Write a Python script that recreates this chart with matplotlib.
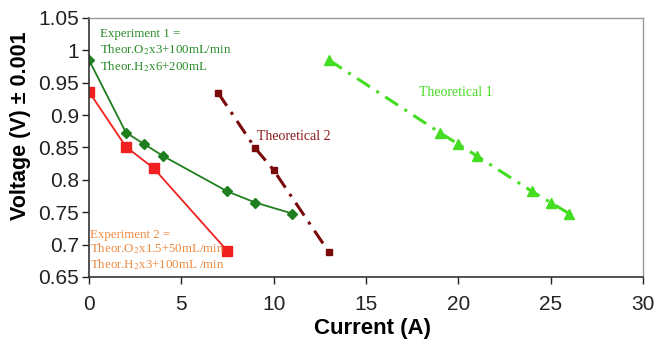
import matplotlib
matplotlib.use("Agg")
import matplotlib.pyplot as plt

# ── Data ───────────────────────────────────────────────────────────────────
exp1_current = [0, 2, 3, 4, 7.5, 9, 11]
exp1_voltage = [0.985, 0.873, 0.855, 0.837, 0.782, 0.765, 0.748]

exp2_current = [0, 2, 3.5, 7.5]
exp2_voltage = [0.936, 0.851, 0.818, 0.690]

theo1_current = [13, 19, 20, 21, 24, 25, 26]
theo1_voltage = [0.985, 0.873, 0.855, 0.837, 0.782, 0.765, 0.748]

theo2_current = [7, 9, 10, 13]
theo2_voltage = [0.934, 0.849, 0.815, 0.688]

x_ticks = [0, 5, 10, 15, 20, 25, 30]
y_ticks = [0.65, 0.7, 0.75, 0.8, 0.85, 0.9, 0.95, 1.0, 1.05]
y_tick_labels = ["0.65", "0.7", "0.75", "0.8", "0.85", "0.9", "0.95", "1", "1.05"]

plt.rcParams["font.family"] = ["Liberation Sans", "DejaVu Sans"]
plt.rcParams["mathtext.fontset"] = "stix"

SERIF = ["Liberation Serif", "DejaVu Serif"]

fig = plt.figure(figsize=(6.57, 3.39), dpi=100)
ax = fig.add_axes([0.1355, 0.183, 0.843, 0.764])

ax.plot(exp1_current, exp1_voltage, color="#1f7f1f", marker="D", markersize=5.5,
        linewidth=1.3)
ax.plot(exp2_current, exp2_voltage, color="#f02020", marker="s", markersize=6.5,
        linewidth=1.3)
ax.plot(theo2_current, theo2_voltage, color="#7a0a0a", marker="s", markersize=5,
        linewidth=2.2, linestyle=(0, (5, 2.5, 1, 2.5)))
ax.plot(theo1_current, theo1_voltage, color="#44dd22", marker="^", markersize=6.5,
        linewidth=2.2, linestyle=(0, (5, 2.5, 1, 2.5)))

# annotations
ax.text(0.6, 1.034, "Experiment 1 =\nTheor.O$_2$x3+100mL/min\nTheor.H$_2$x6+200mL",
        color="#2a8a2a", fontsize=9.3, family=SERIF, va="top", ha="left",
        linespacing=1.2)
ax.text(0.05, 0.724, "Experiment 2 =\nTheor.O$_2$x1.5+50mL/min\nTheor.H$_2$x3+100mL /min",
        color="#f08a40", fontsize=9.3, family=SERIF, va="top", ha="left",
        linespacing=1.05)
ax.text(9.1, 0.867, "Theoretical 2", color="#8b1a1a", fontsize=10,
        family=SERIF, va="center", ha="left")
ax.text(17.9, 0.935, "Theoretical 1", color="#44dd22", fontsize=10,
        family=SERIF, va="center", ha="left")

ax.set_xlim(0, 30)
ax.set_ylim(0.65, 1.05)
ax.set_xticks(x_ticks)
ax.set_yticks(y_ticks)
ax.set_yticklabels(y_tick_labels)
ax.tick_params(axis="both", labelsize=15, direction="out", length=5,
               width=1, colors="#222222")
ax.tick_params(axis="x", pad=8)
ax.tick_params(axis="y", pad=2)

ax.set_xlabel("Current (A)", fontsize=16, fontweight="bold")
ax.set_ylabel("Voltage (V) \u00b1 0.001", fontsize=15.5, fontweight="bold")
ax.xaxis.set_label_coords(0.511, -0.16)
ax.yaxis.set_label_coords(-0.105, 0.583)

for side in ["left", "bottom"]:
    ax.spines[side].set_color("#333333")
    ax.spines[side].set_linewidth(1.2)
for side in ["top", "right"]:
    ax.spines[side].set_color("#999999")
    ax.spines[side].set_linewidth(1.0)

fig.savefig("out.png", dpi=100)
